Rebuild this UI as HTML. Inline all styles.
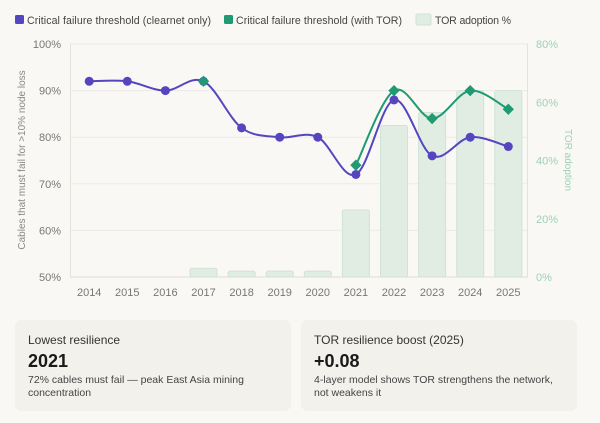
<!DOCTYPE html>
<html><head><meta charset="utf-8"><style>
body{margin:0;background:#f9f8f4;font-family:"Liberation Sans",sans-serif;}
#w{position:relative;width:600px;height:423px;overflow:hidden;}
.card{position:absolute;top:320px;height:91px;width:276px;background:#f2f1eb;border-radius:7px;}
.card .t{position:absolute;left:13px;top:13px;font-size:12px;color:#333;}
.card .v{position:absolute;left:13px;top:31px;font-size:18px;font-weight:bold;color:#1a1a1a;}
.card .d{position:absolute;left:13px;top:54px;font-size:10.5px;color:#444;line-height:13px;}
</style></head><body><div id="w">
<svg id="s" width="600" height="423" style="position:absolute;left:0;top:0" font-family="Liberation Sans, sans-serif"></svg>
<div class="card" style="left:15px"><div class="t">Lowest resilience</div><div class="v">2021</div><div class="d">72% cables must fail — peak East Asia mining<br>concentration</div></div>
<div class="card" style="left:301px"><div class="t">TOR resilience boost (2025)</div><div class="v">+0.08</div><div class="d">4-layer model shows TOR strengthens the network,<br>not weakens it</div></div>
</div>
<script>
var s='';
var X=i=>89.2+38.1*i, Y=v=>277-(v-50)*4.66, B=p=>277-p*2.9125;
[100,90,80,70,60,50].forEach(v=>{s+=`<line x1="70" x2="528" y1="${Y(v)}" y2="${Y(v)}" stroke="${v==50?'#dddcd6':'#ecebe6'}" stroke-width="1"/>`;
s+=`<text x="61" y="${Y(v)+4}" font-size="11" fill="#777" text-anchor="end">${v}%</text>`;});
[80,60,40,20,0].forEach(p=>{s+=`<text x="536" y="${B(p)+4}" font-size="11" fill="#9fd0b8">${p}%</text>`;});
s+=`<line x1="70.5" x2="70.5" y1="44" y2="277" stroke="#e3e2dc"/><line x1="527.5" x2="527.5" y1="44" y2="277" stroke="#e3e2dc"/>`;
var bars={3:3,4:2,5:2,6:2,7:23,8:52,9:56.5,10:64,11:64};
for(var k in bars){var y=B(bars[k]);s+=`<rect x="${X(k)-13.5}" y="${y}" width="27" height="${277-y}" rx="2" fill="#e1ece3" stroke="#cfe3d6" stroke-width="1"/>`;}
for(var i=0;i<12;i++)s+=`<text x="${X(i)}" y="296" font-size="11" fill="#777" text-anchor="middle">${2014+i}</text>`;
function path(pts){var d=`M${pts[0][0]},${pts[0][1]}`;for(var i=0;i<pts.length-1;i++){var p0=pts[i-1]||pts[i],p1=pts[i],p2=pts[i+1],p3=pts[i+2]||p2;
var c1=[p1[0]+(p2[0]-p0[0])/6,p1[1]+(p2[1]-p0[1])/6],c2=[p2[0]-(p3[0]-p1[0])/6,p2[1]-(p3[1]-p1[1])/6];d+=` C${c1},${c2},${p2}`;}return d;}
var cl=[92,92,90,92,82,80,80,72,88,76,80,78].map((v,i)=>[X(i),Y(v)]);
var tr=[[7,74],[8,90],[9,84],[10,90],[11,86]].map(a=>[X(a[0]),Y(a[1])]);
s+=`<path d="${path(cl)}" fill="none" stroke="#5546c0" stroke-width="2"/>`;
s+=`<path d="${path(tr)}" fill="none" stroke="#1f9a72" stroke-width="2"/>`;
cl.forEach(p=>s+=`<circle cx="${p[0]}" cy="${p[1]}" r="4.5" fill="#5546c0"/>`);
tr.concat([[X(3),Y(92)]]).forEach(p=>s+=`<rect x="${p[0]-4}" y="${p[1]-4}" width="8" height="8" fill="#1f9a72" transform="rotate(45 ${p[0]} ${p[1]})"/>`);
s+=`<text transform="translate(25,160) rotate(-90)" font-size="10" fill="#888" text-anchor="middle">Cables that must fail for &gt;10% node loss</text>`;
s+=`<text transform="translate(565,160) rotate(90)" font-size="10" fill="#9fd0b8" text-anchor="middle">TOR adoption</text>`;
s+=`<rect x="15" y="15" width="9" height="9" rx="1.5" fill="#5546c0"/><text x="27" y="24" font-size="10.6" fill="#444" textLength="184">Critical failure threshold (clearnet only)</text>`;
s+=`<rect x="224" y="15" width="9" height="9" rx="1.5" fill="#1f9a72"/><text x="236" y="24" font-size="10.6" fill="#444" textLength="166">Critical failure threshold (with TOR)</text>`;
s+=`<rect x="416" y="14" width="15" height="11" rx="1.5" fill="#e1ece3" stroke="#cfe3d6"/><text x="435" y="24" font-size="10.6" fill="#444" textLength="76">TOR adoption %</text>`;
document.getElementById('s').innerHTML=s;
</script>
</body></html>
